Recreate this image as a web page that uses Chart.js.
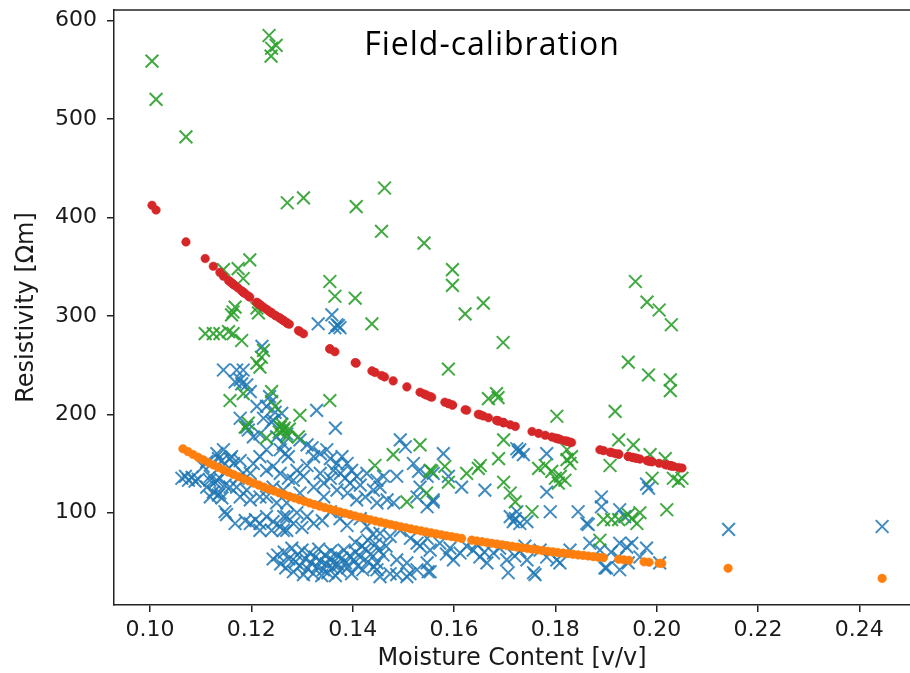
<!DOCTYPE html>
<html lang="en">
<head>
    <meta charset="UTF-8">
    <title>Field-calibration</title>
    <script src="https://cdn.jsdelivr.net/npm/chart.js"></script>
    <style>
        body { margin: 0; background: #fff; }
    </style>
</head>
<body>
    <canvas id="fieldChart" width="910" height="673"></canvas>

    <script>
        // Axis ticks
        const xTicks = [0.10, 0.12, 0.14, 0.16, 0.18, 0.20, 0.22, 0.24];
        const yTicks = [100, 200, 300, 400, 500, 600];

        // Measured points, site 1 (blue crosses): [moisture, resistivity]
        const fieldBlue = [
            [0.1063,135],[0.1070,137],[0.1076,133],[0.1083,136],[0.1089,132],[0.1095,134],
            [0.1112,152],[0.1132,160],[0.1142,153],[0.1158,155],[0.1118,133],[0.1128,131],[0.1138,135],[0.1125,121],[0.1135,118],[0.1112,126],[0.1148,128],[0.1151,98],[0.1168,89],
            [0.1145,245],[0.1171,245],[0.1184,245],[0.1178,235],[0.1191,230],[0.1198,223],[0.1221,269],[0.1178,196],[0.1191,187],[0.1211,208],
            [0.1230,208],[0.1240,213],[0.1247,202],[0.1224,196],[0.1240,192],[0.1204,177],[0.1217,180],[0.1250,177],[0.1263,170],[0.1270,180],
            [0.1273,157],[0.1257,164],[0.1230,164],[0.1217,157],[0.1204,150],[0.1198,140],[0.1230,143],[0.1243,147],[0.1257,140],[0.1273,135],
            [0.1243,126],[0.1263,123],[0.1230,116],[0.1217,116],[0.1250,110],[0.1270,110],[0.1270,96],
            [0.1145,164],[0.1135,155],[0.1122,150],[0.1105,147],[0.1119,137],[0.1132,133],[0.1151,143],[0.1165,150],[0.1178,153],[0.1161,157],
            [0.1184,140],[0.1174,135],[0.1138,120],[0.1119,116],[0.1142,115],[0.1158,126],[0.1171,126],[0.1178,116],[0.1191,123],[0.1198,113],
            [0.1148,101],[0.1198,89],[0.1208,93],[0.1217,89],[0.1230,96],[0.1243,91],[0.1257,86],[0.1263,82],[0.1217,82],[0.1240,82],[0.1188,92],
            [0.1236,218],[0.1260,201],[0.1243,194],[0.1181,231],[0.1168,233],[0.1194,184],
            [0.1332,292],[0.1359,301],[0.1369,291],[0.1375,288],[0.1365,288],[0.1372,290],
            [0.1329,204],[0.1366,186],[0.1267,160],[0.1296,174],[0.1310,169],[0.1320,166],[0.1323,157],[0.1336,160],[0.1349,164],[0.1356,155],
            [0.1369,150],[0.1362,143],[0.1379,157],[0.1389,150],[0.1398,143],[0.1408,137],[0.1385,135],[0.1395,130],[0.1428,140],[0.1448,133],
            [0.1454,126],[0.1461,137],[0.1441,123],[0.1425,116],[0.1408,113],[0.1448,110],[0.1468,113],[0.1481,110],[0.1487,137],[0.1494,174],
            [0.1504,167],[0.1520,150],[0.1530,142],[0.1547,137],[0.1533,126],[0.1527,116],[0.1547,106],[0.1290,143],[0.1283,133],[0.1303,137],
            [0.1323,126],[0.1343,130],[0.1296,120],[0.1343,116],[0.1369,123],[0.1310,148],[0.1336,140],[0.1356,135],[0.1376,140],[0.1415,128],[0.1390,120],
            [0.1264,96],[0.1283,89],[0.1270,82],[0.1310,96],[0.1323,89],[0.1356,101],[0.1375,94],[0.1389,87],[0.1415,94],[0.1428,86],
            [0.1454,79],[0.1474,76],[0.1494,82],[0.1514,74],[0.1527,69],[0.1547,74],[0.1487,52],[0.1507,49],[0.1527,42],[0.1547,49],
            [0.1448,49],[0.1474,38],[0.1507,35],[0.1290,100],[0.1340,92],[0.1300,85],
            [0.1243,53],[0.1252,57],[0.1258,48],[0.1265,60],[0.1268,44],[0.1274,53],[0.1280,64],[0.1283,40],[0.1287,50],[0.1291,57],
            [0.1296,46],[0.1300,62],[0.1303,37],[0.1307,53],[0.1311,43],[0.1315,59],[0.1318,49],[0.1322,38],[0.1326,55],[0.1330,45],
            [0.1333,63],[0.1336,51],[0.1339,36],[0.1342,42],[0.1345,57],[0.1348,48],[0.1351,39],[0.1354,53],[0.1357,61],[0.1360,44],
            [0.1363,50],[0.1366,36],[0.1369,57],[0.1372,47],[0.1375,41],[0.1379,54],[0.1383,62],[0.1386,49],[0.1390,44],[0.1394,56],
            [0.1398,38],[0.1402,52],[0.1406,60],[0.1410,46],[0.1415,55],[0.1420,42],[0.1425,63],[0.1430,50],[0.1436,58],[0.1442,45],
            [0.1405,70],[0.1418,66],[0.1430,72],[0.1445,68],[0.1452,62],[0.1460,57],[0.1466,66],[0.1440,78],
            [0.1448,42],[0.1454,35],[0.1487,37],[0.1513,38],[0.1549,40],[0.1559,113],
            [0.1579,160],[0.1559,140],[0.1589,137],[0.1559,111],[0.1615,126],[0.1661,123],[0.1711,96],[0.1724,101],[0.1730,89],[0.1744,91],
            [0.1717,91],[0.1721,94],[0.1727,162],[0.1730,164],[0.1737,159],[0.1724,165],[0.1790,101],[0.1783,160],[0.1783,121],
            [0.1533,66],[0.1553,62],[0.1572,69],[0.1592,64],[0.1612,59],[0.1599,52],[0.1553,40],[0.1638,62],[0.1651,55],[0.1665,49],
            [0.1678,59],[0.1704,52],[0.1707,39],[0.1730,61],[0.1744,52],[0.1757,39],[0.1770,62],[0.1783,55],[0.1803,52],[0.1809,49],[0.1760,37],
            [0.1625,66],[0.1645,68],[0.1690,64],[0.1720,56],[0.1740,66],[0.1660,60],[0.1585,58],
            [0.1845,101],[0.1862,89],[0.1891,116],[0.1891,106],[0.1927,103],[0.1937,96],[0.1984,125],[0.1980,129],[0.1865,88],
            [0.1829,62],[0.1868,69],[0.1888,62],[0.1901,44],[0.1924,55],[0.1927,69],[0.1941,65],[0.1944,49],[0.1927,42],[0.1967,55],
            [0.1980,64],[0.2006,49],[0.1951,69],[0.1898,44],[0.1910,60],
            [0.2142,83],[0.2445,86]
        ];

        // Measured points, site 2 (green crosses)
        const fieldGreen = [
            [0.1004,559],[0.1012,520],[0.1071,482],[0.1235,585],[0.1240,572],[0.1249,575],[0.1239,564],[0.1271,415],[0.1303,420],[0.1407,411],
            [0.1463,430],[0.1457,386],[0.1541,374],[0.1597,347],[0.1597,331],[0.1622,302],[0.1658,313],[0.1697,273],[0.1958,335],[0.1981,314],
            [0.2005,306],[0.2029,291],[0.1944,253],[0.1984,240],[0.2027,235],[0.2027,224],[0.1918,203],[0.1925,174],[0.1954,169],[0.1987,159],
            [0.2017,155],[0.1908,148],[0.1991,135],[0.2033,135],[0.2043,132],[0.2050,135],[0.2020,103],[0.1803,198],[0.1823,164],[0.1832,157],
            [0.1829,150],[0.1819,133],[0.1810,137],[0.1888,72],[0.1895,93],[0.1911,93],[0.1925,93],[0.1944,98],[0.1951,94],[0.1961,89],
            [0.1967,100],[0.1589,246],[0.1668,216],[0.1684,221],[0.1687,217],[0.1698,174],[0.1688,155],[0.1652,148],[0.1648,145],[0.1625,140],
            [0.1553,143],[0.1582,147],[0.1589,131],[0.1546,120],[0.1698,131],[0.1711,120],[0.1721,111],[0.1754,101],[0.1767,145],[0.1780,148],
            [0.1793,142],[0.1800,135],[0.1806,130],[0.1823,154],[0.1355,214],[0.1296,199],[0.1293,177],[0.1480,159],[0.1444,148],[0.1533,169],
            [0.1507,111],[0.1109,282],[0.1125,282],[0.1138,282],[0.1155,284],[0.1181,275],[0.1164,282],[0.1197,357],[0.1174,348],[0.1145,347],
            [0.1184,338],[0.1168,309],[0.1164,304],[0.1161,301],[0.1211,308],[0.1214,303],[0.1355,335],[0.1365,320],[0.1405,318],[0.1438,292],
            [0.1184,221],[0.1158,214],[0.1240,223],[0.1247,208],[0.1217,248],[0.1224,265],[0.1220,258],[0.1188,187],[0.1230,176],[0.1257,187],
            [0.1263,184],[0.1270,177],[0.1194,191],[0.1211,252],[0.1556,142],[0.1260,190],[0.1265,186],[0.1255,182],[0.1275,185]
        ];

        // Calibration model for site 1 (orange dots)
        const modelOrange = [
            [0.1065,165.0],[0.1075,162.1],[0.1085,159.1],[0.1095,156.4],[0.1105,153.7],[0.1115,151.0],[0.1125,148.5],[0.1135,146.0],
            [0.1145,143.5],[0.1155,141.1],[0.1165,138.8],[0.1175,136.5],[0.1185,134.3],[0.1195,132.2],[0.1205,130.0],[0.1215,128.0],
            [0.1225,126.0],[0.1235,124.0],[0.1245,122.1],[0.1255,120.2],[0.1265,118.4],[0.1275,116.6],[0.1285,114.9],[0.1295,113.2],
            [0.1305,111.5],[0.1315,109.8],[0.1325,108.2],[0.1335,106.7],[0.1345,105.2],[0.1355,103.7],[0.1365,102.2],[0.1375,100.8],
            [0.1385,99.4],[0.1395,98.0],[0.1405,96.7],[0.1415,95.4],[0.1425,94.1],[0.1435,92.8],[0.1445,91.6],[0.1455,90.4],
            [0.1465,89.2],[0.1475,88.0],[0.1485,86.9],[0.1495,85.8],[0.1505,84.7],[0.1515,83.6],[0.1525,82.5],[0.1535,81.5],
            [0.1545,80.5],[0.1555,79.5],[0.1565,78.5],[0.1575,77.6],[0.1585,76.6],[0.1595,75.7],[0.1605,74.8],[0.1615,73.9],
            [0.1635,72.1],[0.1645,71.3],[0.1655,70.5],[0.1665,69.7],[0.1675,68.9],[0.1685,68.1],[0.1695,67.3],[0.1705,66.5],
            [0.1715,65.8],[0.1725,65.0],[0.1735,64.3],[0.1745,63.6],[0.1755,62.9],[0.1765,62.2],[0.1775,61.5],[0.1785,60.9],
            [0.1795,60.2],[0.1805,59.6],[0.1815,59.0],[0.1825,58.4],[0.1835,57.7],[0.1845,57.1],[0.1855,56.6],[0.1865,56.0],
            [0.1875,55.4],[0.1885,54.8],[0.1895,54.3],[0.1925,52.7],[0.1935,52.2],[0.1945,51.6],[0.1975,50.1],[0.1985,49.7],
            [0.2005,48.6],[0.2010,48.4],[0.2141,43.5],[0.2445,33.3]
        ];

        // Calibration model for site 2 (red dots)
        const modelRed = [
            [0.1004,412.4],[0.1012,407.6],[0.1071,375.2],[0.1235,304.8],[0.1240,303.0],[0.1249,299.9],[0.1239,303.4],[0.1271,292.3],[0.1303,281.9],[0.1407,252.0],
            [0.1463,238.0],[0.1457,239.4],[0.1541,220.7],[0.1597,209.4],[0.1597,209.4],[0.1622,204.7],[0.1658,198.3],[0.1697,191.7],[0.1958,155.6],[0.1981,152.9],
            [0.2005,150.2],[0.2029,147.6],[0.1944,157.2],[0.1984,152.5],[0.2027,147.8],[0.2027,147.8],[0.1918,160.2],[0.1925,159.5],[0.1954,156.0],[0.1987,152.2],
            [0.2017,148.8],[0.1908,161.5],[0.1991,151.7],[0.2033,147.1],[0.2043,146.0],[0.2050,145.4],[0.2020,148.6],[0.1803,175.5],[0.1823,172.6],[0.1832,171.3],
            [0.1829,171.7],[0.1819,173.1],[0.1810,174.4],[0.1888,164.0],[0.1895,163.1],[0.1911,161.2],[0.1925,159.5],[0.1944,157.2],[0.1951,156.4],[0.1961,155.2],
            [0.1967,154.5],[0.1589,210.9],[0.1668,196.5],[0.1684,193.8],[0.1687,193.3],[0.1698,191.5],[0.1688,193.2],[0.1652,199.4],[0.1648,200.1],[0.1625,204.2],
            [0.1553,218.0],[0.1582,212.3],[0.1589,210.9],[0.1546,219.5],[0.1698,191.5],[0.1711,189.4],[0.1721,187.7],[0.1754,182.5],[0.1767,180.6],[0.1780,178.7],
            [0.1793,176.9],[0.1800,175.9],[0.1806,175.0],[0.1823,172.6],[0.1355,266.5],[0.1296,284.1],[0.1293,285.1],[0.1480,234.0],[0.1444,242.6],[0.1533,222.4],
            [0.1507,227.9],[0.1109,358.3],[0.1125,350.4],[0.1138,344.3],[0.1155,336.1],[0.1181,325.4],[0.1164,332.3],[0.1197,319.1],[0.1174,328.3],[0.1145,340.4],
            [0.1184,324.2],[0.1168,330.7],[0.1164,332.3],[0.1161,333.6],[0.1211,313.7],[0.1214,312.6],[0.1355,266.5],[0.1365,263.6],[0.1405,252.5],[0.1438,244.1],
            [0.1184,324.2],[0.1158,334.8],[0.1240,303.0],[0.1247,300.6],[0.1217,311.4],[0.1224,308.8],[0.1220,310.3],[0.1188,322.6],[0.1230,306.7],[0.1257,297.6],
            [0.1263,295.5],[0.1270,293.2],[0.1194,320.3],[0.1211,313.7],[0.1556,217.4],[0.1260,296.5],[0.1265,294.8],[0.1255,298.3],[0.1275,291.6]
        ];

        const toXY = pts => pts.map(([x, y]) => ({ x: x, y: y }));

        const axisColor = '#222';
        const textColor = '#1a1a1a';
        const tickFont = { family: 'DejaVu Sans', size: 22 };
        const labelFont = { family: 'DejaVu Sans', size: 24 };

        // keep the plot box fixed: no extra room for overhanging tick labels
        const noScalePadding = scale => {
            scale.paddingTop = 0;
            scale.paddingBottom = 0;
            scale.paddingLeft = 0;
            scale.paddingRight = 0;
        };

        // top spine + in-plot title
        const frameAndTitle = {
            id: 'frameAndTitle',
            afterDraw(chart) {
                const { ctx, chartArea } = chart;
                ctx.save();
                ctx.strokeStyle = axisColor;
                ctx.lineWidth = 1.5;
                ctx.beginPath();
                ctx.moveTo(chartArea.left, chartArea.top);
                ctx.lineTo(chartArea.right, chartArea.top);
                ctx.stroke();
                ctx.fillStyle = '#000';
                ctx.font = '32px "Open Sans"';
                ctx.letterSpacing = '1px';
                ctx.textAlign = 'center';
                ctx.textBaseline = 'alphabetic';
                ctx.fillText('Field-calibration', 492, 55);
                ctx.restore();
            }
        };

        const ctx = document.getElementById('fieldChart').getContext('2d');
        new Chart(ctx, {
            type: 'scatter',
            data: {
                datasets: [
                    {
                        label: 'Model (site 2)',
                        data: toXY(modelRed),
                        pointStyle: 'circle',
                        pointRadius: 4.3,
                        borderWidth: 0.5,
                        backgroundColor: '#d62728',
                        borderColor: '#d62728'
                    },
                    {
                        label: 'Model (site 1)',
                        data: toXY(modelOrange),
                        pointStyle: 'circle',
                        pointRadius: 4.3,
                        borderWidth: 0.5,
                        backgroundColor: '#ff7f0e',
                        borderColor: '#ff7f0e'
                    },
                    {
                        label: 'Field (site 2)',
                        data: toXY(fieldGreen),
                        pointStyle: 'crossRot',
                        pointRadius: 9,
                        borderWidth: 2,
                        borderColor: 'rgba(44, 160, 44, 0.9)'
                    },
                    {
                        label: 'Field (site 1)',
                        data: toXY(fieldBlue),
                        pointStyle: 'crossRot',
                        pointRadius: 9,
                        borderWidth: 2,
                        borderColor: 'rgba(31, 119, 180, 0.85)'
                    }
                ]
            },
            options: {
                responsive: false,
                animation: false,
                layout: { autoPadding: false, padding: { top: 10, right: 0, bottom: 0, left: 0 } },
                plugins: {
                    legend: { display: false },
                    tooltip: { enabled: false }
                },
                scales: {
                    x: {
                        type: 'linear',
                        min: 0.0929,
                        max: 0.2500,
                        afterFit: scale => { scale.height = 68; noScalePadding(scale); },
                        afterBuildTicks: scale => { scale.ticks = xTicks.map(v => ({ value: v })); },
                        border: { display: true, color: axisColor, width: 1.5 },
                        grid: { drawOnChartArea: false, drawTicks: true, tickLength: 7, color: axisColor, lineWidth: 1.5 },
                        ticks: {
                            padding: 5,
                            color: textColor,
                            font: tickFont,
                            maxRotation: 0,
                            callback: v => v.toFixed(2)
                        },
                        title: {
                            display: true,
                            text: 'Moisture Content [v/v]',
                            color: textColor,
                            font: labelFont,
                            padding: { top: 0, bottom: 0 }
                        }
                    },
                    y: {
                        type: 'linear',
                        min: 6.2,
                        max: 610.9,
                        afterFit: scale => { scale.width = 114; noScalePadding(scale); },
                        afterBuildTicks: scale => { scale.ticks = yTicks.map(v => ({ value: v })); },
                        border: { display: true, color: axisColor, width: 1.5 },
                        grid: { drawOnChartArea: false, drawTicks: true, tickLength: 7, color: axisColor, lineWidth: 1.5 },
                        ticks: {
                            padding: 10,
                            color: textColor,
                            font: tickFont,
                            callback: v => String(v)
                        },
                        title: {
                            display: true,
                            text: 'Resistivity [\u03A9m]',
                            color: textColor,
                            font: labelFont,
                            padding: { top: 12, bottom: 0 }
                        }
                    }
                }
            },
            plugins: [frameAndTitle]
        });
    </script>
</body>
</html>
